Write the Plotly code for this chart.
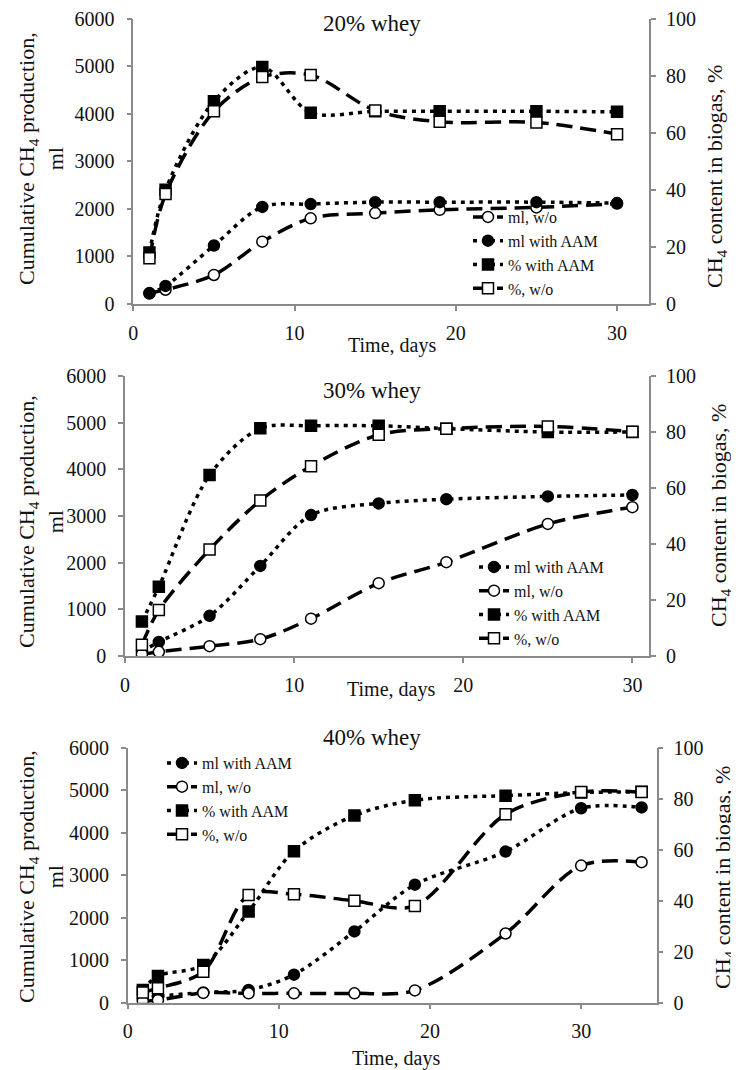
import plotly.graph_objects as go

W, H = 739, 1070
OFF = 8  # page body margin of the html page
FW, FH = W - OFF, H - OFF
FONT = "Liberation Serif"

# ---------------- data ----------------
days20 = [1, 2, 5, 8, 11, 15, 19, 25, 30]
ml_aam_20 = [220, 380, 1230, 2040, 2100, 2140, 2140, 2140, 2120]
ml_wo_20 = [230, 300, 610, 1310, 1800, 1910, 1980, 2030, 2110]
pct_aam_20 = [18, 40, 71, 83, 67, 67.5, 67.5, 67.5, 67.3]
pct_wo_20 = [16, 38.5, 67.5, 79.5, 80.2, 67.8, 63.8, 63.6, 59.5]

days30 = [1, 2, 5, 8, 11, 15, 19, 25, 30]
ml_aam_30 = [100, 300, 860, 1930, 3020, 3270, 3360, 3420, 3450]
ml_wo_30 = [40, 90, 210, 360, 800, 1560, 2010, 2830, 3190]
pct_aam_30 = [12.3, 24.7, 64.6, 81.3, 82.2, 82.2, 81.2, 80, 80]
pct_wo_30 = [4, 16.4, 38, 55.5, 67.8, 79, 81.2, 82, 80.1]

days40 = [1, 2, 5, 8, 11, 15, 19, 25, 30, 34]
ml_aam_40 = [100, 150, 240, 300, 660, 1680, 2780, 3560, 4580, 4600]
ml_wo_40 = [40, 60, 230, 220, 220, 220, 290, 1630, 3230, 3310]
pct_aam_40 = [5, 10.5, 14.8, 35.8, 59.5, 73.5, 79.5, 81.3, 82.5, 82.8]
pct_wo_40 = [4, 5.7, 12.2, 42.3, 42.6, 40, 38, 74, 82.7, 82.7]

panel_titles = ["20% whey", "30% whey", "40% whey"]
x_ranges = [[0, 32], [0, 31], [0, 35]]
y_ticks_ml = [0, 1000, 2000, 3000, 4000, 5000, 6000]
y_ticks_pct = [0, 20, 40, 60, 80, 100]
x_ticks = [0, 10, 20, 30]

# ---------------- styles ----------------
DOT = "4px,5px"
DASH = "16px,8px"
LW = 3.5
MS = 11


def px_x(p):
    return (p - OFF) / FW


def px_y(p):
    return 1 - (p - OFF) / FH


styles = {
    "ml with AAM": dict(dash=DOT, symbol="circle", fill="black"),
    "ml, w/o": dict(dash=DASH, symbol="circle", fill="white"),
    "% with AAM": dict(dash=DOT, symbol="square", fill="black"),
    "%, w/o": dict(dash=DASH, symbol="square", fill="white"),
}

fig = go.Figure()

panels = [
    dict(days=days20, series={"ml, w/o": ml_wo_20, "ml with AAM": ml_aam_20,
                              "% with AAM": pct_aam_20, "%, w/o": pct_wo_20},
         order=["ml, w/o", "ml with AAM", "% with AAM", "%, w/o"],
         xa="x", ya="y", ya2="y2", legend="legend"),
    dict(days=days30, series={"ml with AAM": ml_aam_30, "ml, w/o": ml_wo_30,
                              "% with AAM": pct_aam_30, "%, w/o": pct_wo_30},
         order=["ml with AAM", "ml, w/o", "% with AAM", "%, w/o"],
         xa="x2", ya="y3", ya2="y4", legend="legend2"),
    dict(days=days40, series={"ml with AAM": ml_aam_40, "ml, w/o": ml_wo_40,
                              "% with AAM": pct_aam_40, "%, w/o": pct_wo_40},
         order=["ml with AAM", "ml, w/o", "% with AAM", "%, w/o"],
         xa="x3", ya="y5", ya2="y6", legend="legend3"),
]

for p in panels:
    for rank, name in enumerate(p["order"]):
        st = styles[name]
        yax = p["ya2"] if name.startswith("%") else p["ya"]
        fig.add_trace(go.Scatter(
            x=p["days"], y=p["series"][name], name=name,
            mode="lines+markers",
            xaxis=p["xa"], yaxis=yax, legend=p["legend"], legendrank=rank + 1,
            line=dict(color="black", width=LW, dash=st["dash"],
                      shape="spline", smoothing=0.9),
            marker=dict(symbol=st["symbol"], size=MS, color=st["fill"],
                        line=dict(color="black", width=1.5)),
        ))

AX = "#8a8a8a"
TICKFONT = dict(family=FONT, size=20, color="#111")
COMMON = dict(showline=True, linecolor=AX, linewidth=1.5, ticks="outside",
              ticklen=5, tickcolor=AX, tickwidth=1.5, showgrid=False,
              zeroline=False, tickfont=TICKFONT, fixedrange=True,
              ticklabeloverflow="allow")


def xaxis(dom, rng, anchor):
    return dict(domain=dom, range=rng, anchor=anchor, tickvals=x_ticks,
                ticklabelstandoff=5, **COMMON)


def yaxis(dom, anchor, ticks):
    return dict(domain=dom, range=[0, ticks[-1]], anchor=anchor, tickvals=ticks,
                ticklabelstandoff=8, **COMMON)


def yaxis_r(overlay, anchor):
    return dict(overlaying=overlay, side="right", anchor=anchor,
                range=[0, 100], tickvals=y_ticks_pct,
                ticklabelstandoff=6, **COMMON)


# pixel geometry of the three plot areas (page pixels)
geo = [
    dict(x0=133.3, x1=649.3, y0=18.5, y1=304.0),
    dict(x0=125.0, x1=649.3, y0=376.0, y1=656.0),
    dict(x0=127.7, x1=656.7, y0=748.0, y1=1002.7),
]

layout = dict(
    width=FW, height=FH,
    margin=dict(l=0, r=0, t=0, b=0, autoexpand=False),
    paper_bgcolor="white", plot_bgcolor="white",
    font=dict(family=FONT, color="#111"),
    showlegend=True,
)

names = [("xaxis", "yaxis", "yaxis2", "x", "y"),
         ("xaxis2", "yaxis3", "yaxis4", "x2", "y3"),
         ("xaxis3", "yaxis5", "yaxis6", "x3", "y5")]
for g, rng, (xn, yn, yn2, xs, ys) in zip(geo, x_ranges, names):
    layout[xn] = xaxis([px_x(g["x0"]), px_x(g["x1"])], rng, ys)
    layout[yn] = yaxis([px_y(g["y1"]), px_y(g["y0"])], xs, y_ticks_ml)
    layout[yn2] = yaxis_r(ys, xs)

LEGFONT = dict(family=FONT, size=16, color="#111")
layout["legend"] = dict(x=px_x(468), y=px_y(306), xanchor="left", yanchor="bottom",
                        font=LEGFONT, bgcolor="rgba(0,0,0,0)", tracegroupgap=0)
layout["legend2"] = dict(x=px_x(474), y=px_y(656), xanchor="left", yanchor="bottom",
                         font=LEGFONT, bgcolor="rgba(0,0,0,0)", tracegroupgap=0)
layout["legend3"] = dict(x=px_x(162), y=px_y(746), xanchor="left", yanchor="top",
                         font=LEGFONT, bgcolor="rgba(0,0,0,0)", tracegroupgap=0)

fig.update_layout(**layout)

ann = []


def add_text(text, x, y, size, angle=0):
    ann.append(dict(text=text, x=px_x(x), y=px_y(y), xref="paper", yref="paper",
                    xanchor="center", yanchor="middle", showarrow=False,
                    textangle=angle, align="center",
                    font=dict(family=FONT, size=size, color="#111")))


title_pos = [(372, 23), (372, 390), (372, 737)]
for t, (x, y) in zip(panel_titles, title_pos):
    add_text(t, x, y, 23)

for (x, y) in [(392, 345), (391, 689), (396, 1058)]:
    add_text("Time, days", x, y, 20)

for (x, y) in [(41, 159), (41, 522), (41, 877)]:
    add_text("Cumulative CH<sub>4</sub> production,<br>ml", x, y, 22, -90)

for (x, y) in [(716, 177), (720, 516), (724, 878)]:
    add_text("CH<sub>4</sub> content in biogas, %", x, y, 22, -90)

fig.update_layout(annotations=ann)

fig.write_html("out.html")
